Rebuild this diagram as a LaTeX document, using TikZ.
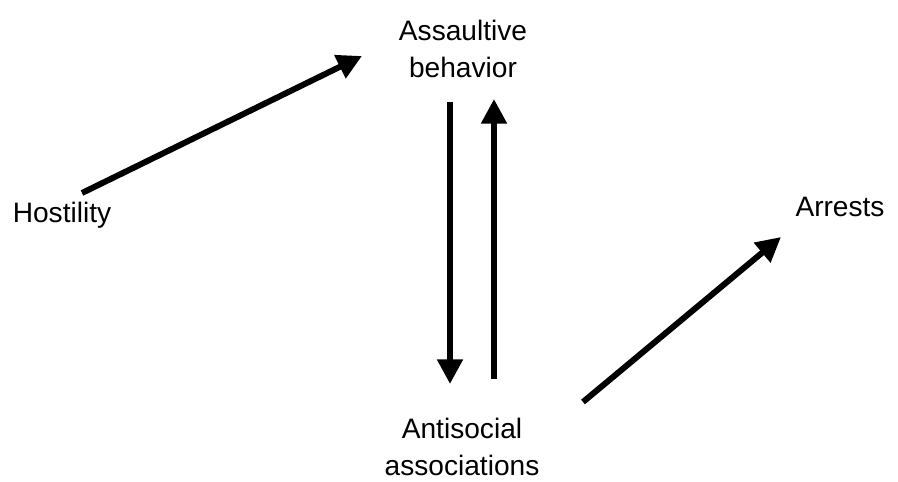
\documentclass[tikz,border=0pt]{standalone}
\usepackage{fontspec}
\setmainfont{Liberation Sans}
\usetikzlibrary{arrows.meta,positioning}
\tikzset{
  lbl/.style={align=center,inner sep=0pt,font=\fontsize{16}{21.5}\selectfont},
  path/.style={line width=3.4pt,-{Triangle[length=14pt,width=14pt]}}
}

\begin{document}
\begin{tikzpicture}[x=0.02cm,y=-0.02cm]
\useasboundingbox (0,0) rectangle (898,482);
\node[lbl] (host) at (62,215) {Hostility};
\node[lbl] (assault) at (463,49) {Assaultive\\behavior};
\node[lbl] (antis) at (462,447) {Antisocial\\associations};
\node[lbl] (arr) at (840,207) {Arrests};
% arrow ends
\coordinate (h1) at (82,193);   \coordinate (h2) at (362,56);
\coordinate (d1) at (450,102);  \coordinate (d2) at (450,384);
\coordinate (u1) at (494,379);  \coordinate (u2) at (494,99);
\coordinate (a1) at (583,402);  \coordinate (a2) at (781,237);
\draw[path] (h1) -- (h2);
\draw[path] (d1) -- (d2);
\draw[path] (u1) -- (u2);
\draw[path] (a1) -- (a2);
\end{tikzpicture}
\end{document}
